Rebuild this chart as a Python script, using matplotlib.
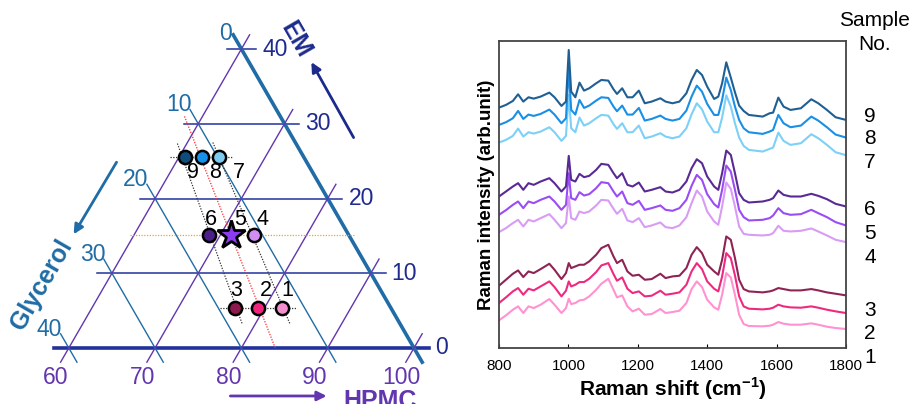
import numpy as np
import matplotlib.pyplot as plt

plt.rcParams['font.family'] = ['Liberation Sans', 'DejaVu Sans']
plt.rcParams['mathtext.fontset'] = 'custom'
plt.rcParams['mathtext.rm'] = 'Liberation Sans'
plt.rcParams['mathtext.bf'] = 'Liberation Sans:bold'

# compositions (wt%)
sample_no = [1, 2, 3, 4, 5, 6, 7, 8, 9]
em = [5.3, 5.3, 5.3, 15.1, 15.1, 15.1, 25.5, 25.5, 25.5]
glycerol = [12.6, 15.4, 18.1, 11.0, 13.7, 16.2, 9.9, 11.8, 13.8]
hpmc = [82.1, 79.3, 76.6, 73.9, 71.2, 68.7, 64.6, 62.7, 60.7]
pt_colors = ['#f48fcd', '#f0247c', '#8c1a4d', '#d38cf2', '#8b3cf0',
             '#4b1e8c', '#7ccaf0', '#1690e8', '#0e4c7c']

em_ticks = [0, 10, 20, 30, 40]
gly_ticks = [0, 10, 20, 30, 40]
hpmc_ticks = [60, 70, 80, 90, 100]

# Raman spectra (arb. unit, stacked as in the figure)
shift = [800, 820, 840, 855, 870, 885, 900, 920, 945, 960, 980, 993, 1001, 1008, 1020,
         1032, 1045, 1060, 1080, 1095, 1115, 1130, 1140, 1155, 1170, 1185, 1203, 1220, 1240, 1265,
         1280, 1300, 1320, 1340, 1355, 1370, 1385, 1400, 1420, 1432, 1443, 1455, 1468, 1480, 1492,
         1505, 1520, 1560, 1580, 1590, 1605, 1620, 1640, 1670, 1700, 1720, 1745, 1770, 1800]
spec9 = [722, 730, 742, 762, 740, 753, 749, 755, 767, 753, 727, 740, 895, 770, 753,
         797, 773, 780, 795, 805, 803, 777, 763, 780, 753, 753, 773, 735, 740, 750,
         740, 735, 740, 765, 805, 835, 820, 785, 748, 755, 795, 858, 812, 768, 728,
         712, 700, 695, 705, 707, 752, 725, 715, 720, 747, 735, 715, 693, 685]
spec8 = [670, 678, 690, 712, 688, 701, 697, 703, 716, 701, 675, 690, 840, 715, 701,
         745, 721, 728, 743, 753, 751, 725, 711, 728, 701, 701, 721, 683, 688, 698,
         688, 683, 688, 713, 755, 788, 770, 733, 700, 700, 745, 812, 775, 725, 685,
         660, 648, 643, 650, 655, 700, 675, 663, 668, 695, 683, 663, 641, 632]
spec7 = [617, 625, 637, 659, 635, 648, 644, 650, 663, 648, 622, 637, 760, 660, 648,
         692, 668, 675, 690, 700, 698, 672, 658, 675, 648, 648, 668, 630, 635, 645,
         635, 630, 635, 660, 702, 735, 717, 680, 648, 648, 692, 759, 725, 675, 632,
         607, 595, 590, 598, 602, 647, 622, 610, 615, 642, 630, 610, 588, 579]
spec6 = [455, 470, 485, 495, 475, 495, 490, 500, 510, 495, 470, 485, 577, 505, 500,
         523, 513, 517, 535, 553, 550, 525, 510, 525, 490, 485, 497, 470, 475, 483,
         470, 467, 475, 500, 540, 567, 555, 515, 485, 475, 525, 593, 580, 525, 465,
         445, 437, 440, 445, 450, 473, 460, 455, 455, 463, 457, 447, 433, 425]
spec5 = [400, 414, 430, 440, 420, 440, 435, 445, 455, 440, 415, 430, 525, 450, 445,
         468, 458, 462, 480, 498, 495, 470, 455, 470, 435, 430, 442, 415, 420, 428,
         415, 412, 420, 445, 487, 520, 505, 462, 432, 422, 475, 548, 530, 475, 415,
         393, 383, 385, 390, 398, 420, 405, 400, 402, 415, 405, 393, 378, 368]
spec4 = [348, 360, 375, 385, 365, 385, 380, 390, 402, 385, 360, 375, 455, 390, 385,
         410, 405, 410, 428, 445, 443, 418, 403, 418, 383, 378, 390, 363, 368, 377,
         363, 360, 368, 393, 435, 473, 455, 410, 380, 370, 425, 497, 478, 425, 365,
         343, 340, 338, 340, 345, 367, 352, 350, 352, 359, 350, 338, 325, 318]
spec3 = [187, 205, 223, 233, 213, 230, 225, 237, 253, 235, 207, 225, 255, 240, 245,
         250, 250, 260, 280, 300, 310, 275, 255, 265, 230, 217, 220, 205, 207, 223,
         210, 215, 217, 240, 280, 303, 285, 250, 230, 220, 265, 335, 325, 270, 205,
         177, 170, 167, 170, 173, 180, 177, 173, 173, 177, 173, 167, 163, 158]
spec2 = [135, 152, 170, 180, 160, 178, 173, 185, 200, 183, 155, 172, 200, 185, 190,
         198, 198, 208, 228, 248, 255, 222, 202, 212, 178, 165, 170, 155, 157, 172,
         160, 163, 167, 190, 230, 255, 237, 200, 178, 170, 215, 285, 270, 218, 155,
         125, 118, 116, 118, 121, 130, 125, 122, 121, 125, 121, 115, 110, 105]
spec1 = [83, 98, 115, 125, 105, 125, 120, 130, 147, 130, 105, 120, 148, 132, 135,
         143, 145, 155, 175, 193, 208, 175, 152, 158, 125, 110, 118, 100, 102, 117,
         105, 108, 112, 135, 177, 200, 183, 145, 122, 115, 160, 225, 212, 160, 100,
         72, 66, 65, 67, 70, 78, 73, 70, 70, 74, 70, 64, 60, 57]
spectra = [spec1, spec2, spec3, spec4, spec5, spec6, spec7, spec8, spec9]
line_colors = ['#ff92d0', '#ee2a80', '#8e2455', '#d99cf5', '#9a4cf5',
               '#5a2a94', '#7dd0f7', '#1a8fe6', '#1f5f94']

navy = '#22329c'
teal = '#1f6ca6'
purple = '#6236ae'

fig = plt.figure(figsize=(9.11, 4.04), dpi=100)

# ---------- ternary diagram ----------
ax = fig.add_axes([0, 0, 470 / 911, 1])
ax.set_xlim(52.03, 106.49)
ax.set_ylim(-6.49, 40.32)
ax.axis('off')

s3 = np.sqrt(3) / 2


def txy(g, h):
    g = np.asarray(g, float)
    h = np.asarray(h, float)
    return 100 - g - h / 2, h * s3


for h in em_ticks:
    x, y = txy([-1.7, 40 - h + 1.7], [h, h])
    ax.plot(x, y, color=navy, lw=2.6 if h == 0 else 1.1, zorder=2)
    ax.text(x[0] + 0.7, y[0], str(h), color='#1f2a8f', fontsize=16.5,
            ha='left', va='center')

for g in gly_ticks:
    hh = np.array([-1.9, 40 - g + 1.9])
    x, y = txy([g, g], hh)
    ax.plot(x, y, color=teal, lw=2.6 if g == 0 else 1.0, zorder=2)
    dx, dy = (-0.9, 0.1) if g == 0 else (-1.3, 0.55)
    ax.text(x[1] + dx, y[1] + dy, str(g), color=teal, fontsize=16.5,
            ha='center', va='center')

for p in hpmc_ticks:
    hh = np.array([-1.9, 100 - p + 1.9])
    x, y = txy(100 - p - hh, hh)
    ax.plot(x, y, color=purple, lw=1.0, zorder=2)
    ax.text(x[0] - 0.55, -3.4, str(p), color=purple, fontsize=16.5,
            ha='center', va='center')

# guide lines through the sample columns (constant glycerol : HPMC)
em_a = np.array(em)
gly_a = np.array(glycerol)
hp_a = np.array(hpmc)
for cols, col, ext in [([0, 3, 6], '#333333', None), ([2, 5, 8], '#333333', None),
                       ([1, 4, 7], '#ff2a2a', 'red')]:
    r = np.mean(gly_a[cols] / (gly_a[cols] + hp_a[cols]))
    if ext:
        hh = np.array([0, em_a[cols].max() + 5.5])
    else:
        hh = np.array([em_a[cols].min() - 2, em_a[cols].max() + 2])
    x, y = txy(r * (100 - hh), hh)
    ax.plot(x, y, color=col, lw=0.9, ls=(0, (1, 1.2)), zorder=3)

# row guide lines
for rows in ([0, 1, 2], [6, 7, 8]):
    x, y = txy(gly_a[rows], em_a[rows])
    ax.plot([x.min() - 1.7, x.max() + 1.7], [y[0], y[0]], color='#333333',
            lw=0.9, ls=(0, (1, 1.2)), zorder=3)
hm = em_a[3]
x, y = txy([-0.6, 40 - hm + 0.6], [hm, hm])
ax.plot(x, y, color='#f5a020', lw=0.9, ls=(0, (1, 1.2)), zorder=3)

xp, yp = txy(glycerol, em)
label_off = {1: (5, 18), 2: (8, 18), 3: (1, 18), 4: (9, 16), 5: (10, 16),
             6: (2, 16), 7: (20, -15), 8: (13, -15), 9: (8, -15)}
for i, n in enumerate(sample_no):
    if n == 5:
        ax.plot(xp[i], yp[i], marker='*', ms=21, mfc=pt_colors[i], mec='black',
                mew=2, zorder=5)
    else:
        ax.plot(xp[i], yp[i], marker='o', ms=9.5, mfc=pt_colors[i], mec='black',
                mew=1.8, zorder=5)
    ax.annotate(str(n), (xp[i], yp[i]), xytext=label_off[n],
                textcoords='offset pixels', fontsize=15.5, ha='center', va='center',
                zorder=6)

# axis titles and arrows
ax.text(86.3, 35.7, 'EM', color='#1c2a8c', fontsize=18, fontweight='bold',
        rotation=-60, ha='center', va='center')
ax.annotate('', xy=(87.95, 33.4), xytext=(93.16, 24.1),
            arrowprops=dict(arrowstyle='-|>', lw=2, color='#1c2a8c', mutation_scale=14))
ax.text(56.8, 7.3, 'Glycerol', color=teal, fontsize=18, fontweight='bold',
        rotation=60, ha='center', va='center')
ax.annotate('', xy=(60.4, 12.9), xytext=(65.7, 21.8),
            arrowprops=dict(arrowstyle='-|>', lw=2, color=teal, mutation_scale=14))
ax.text(96.06, -6.1, 'HPMC', color=purple, fontsize=18, fontweight='bold',
        ha='center', va='center', clip_on=False)
ax.annotate('', xy=(90.2, -5.56), xytext=(78.4, -5.56),
            arrowprops=dict(arrowstyle='-|>', lw=2, color=purple, mutation_scale=14))

# ---------- Raman spectra ----------
ax2 = fig.add_axes([499 / 911, 56 / 404, 347 / 911, 307 / 404])
for spec, c in zip(spectra, line_colors):
    ax2.plot(shift, spec, color=c, lw=1.5)
ax2.set_xlim(800, 1800)
ax2.set_ylim(0, 922)
ax2.set_yticks([])
ax2.set_xticks(range(800, 1801, 200))
ax2.tick_params(axis='x', direction='in', length=3, pad=8, labelsize=11)
for sp in ax2.spines.values():
    sp.set_color('#444444')
    sp.set_linewidth(1.3)
ax2.set_xlabel(r'Raman shift (cm$^{\mathbf{-1}}$)', fontsize=15, fontweight='bold',
               labelpad=2)
ax2.set_ylabel('Raman intensity (arb.unit)', fontsize=13.5, fontweight='bold',
               labelpad=3)

num_y = [-29, 43, 112, 271, 343, 415, 556, 628, 694]
for n, yy in zip(sample_no, num_y):
    ax2.text(1869, yy, str(n), fontsize=15, ha='center', va='center', clip_on=False)
fig.text(874 / 911, 1 - 20 / 404, 'Sample', fontsize=15, ha='center', va='center')
fig.text(875 / 911, 1 - 45 / 404, 'No.', fontsize=15, ha='center', va='center')

fig.savefig('out.png', dpi=100)
